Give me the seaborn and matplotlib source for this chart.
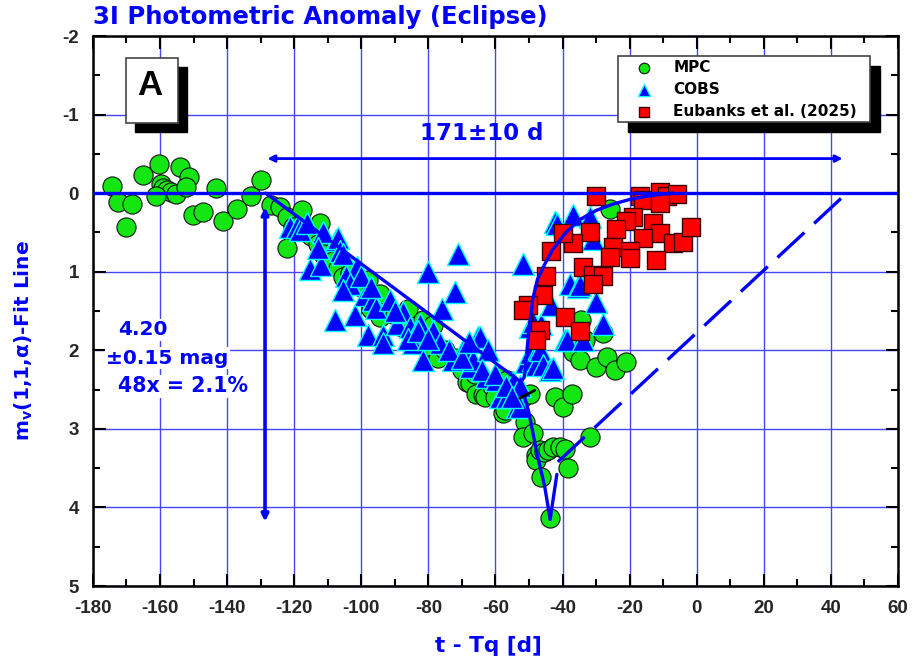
import matplotlib
matplotlib.use("Agg")
import matplotlib.pyplot as plt
import seaborn as sns
import pandas as pd
from matplotlib.patches import Rectangle
from matplotlib.ticker import MultipleLocator
from matplotlib import font_manager

# ---------------- data ----------------
mpc_t = [-174.2, -172.5, -168.4, -170.2, -165.2, -160.4, -154.0, -151.4, -159.6, -159.2,
         -158.0, -156.6, -155.3, -152.3, -161.3, -150.3, -147.3, -143.2, -141.2, -137.2,
         -133.0, -130.0, -126.8, -124.3, -122.3, -120.4, -117.8, -122.3, -115.0, -113.0,
         -112.4, -111.5, -110.0, -108.5, -107.0, -105.5, -103.4, -100.0, -98.0, -97.0,
         -94.5, -94.5, -90.0, -88.0, -86.0, -84.0, -81.6, -80.0, -78.6, -77.2,
         -75.0, -72.0, -70.0, -68.6, -67.7, -66.0, -65.7, -63.8, -63.2, -61.0,
         -60.0, -58.7, -57.8, -57.2, -56.7, -55.0, -51.9, -51.3, -49.8, -51.9,
         -48.9, -47.8, -47.8, -46.8, -46.3, -45.5, -44.4, -43.8, -42.9, -40.8,
         -39.3, -38.4, -42.3, -39.9, -37.3, -31.9, -34.4, -33.4, -37.0, -34.9,
         -29.9, -26.9, -24.4, -21.0, -28.0, -25.9]
mpc_m = [-0.09, 0.11, 0.14, 0.43, -0.23, -0.37, -0.33, -0.21, -0.12, -0.06,
         -0.04, -0.02, 0.01, -0.08, 0.04, 0.28, 0.24, -0.06, 0.36, 0.20,
         0.04, -0.17, 0.15, 0.17, 0.30, 0.43, 0.22, 0.70, 0.55, 0.65,
         0.38, 0.77, 0.90, 0.86, 0.95, 1.07, 1.02, 1.20, 1.10, 1.47,
         1.28, 1.57, 1.55, 1.70, 1.47, 1.80, 1.62, 1.95, 1.68, 2.10,
         2.00, 2.10, 2.25, 2.40, 2.42, 2.30, 2.55, 2.57, 2.59, 2.45,
         2.60, 2.34, 2.80, 2.76, 2.38, 2.55, 2.59, 2.91, 2.55, 3.10,
         3.05, 3.33, 3.40, 3.27, 3.61, 3.30, 3.27, 4.13, 3.23, 3.23,
         3.25, 3.50, 2.59, 2.72, 2.55, 3.10, 1.62, 1.87, 2.02, 2.12,
         2.21, 2.08, 2.25, 2.15, 1.78, 0.20]

cobs_t = [-121.3, -119.3, -118.3, -116.3, -111.5, -107.4, -107.0, -106.4, -105.5, -115.3,
          -111.9, -101.4, -104.6, -103.4, -105.5, -107.9, -101.9, -99.0, -96.6, -95.5,
          -91.5, -98.0, -93.6, -93.6, -89.5, -87.6, -85.5, -84.6, -82.6, -81.6,
          -80.2, -78.6, -76.6, -76.0, -72.7, -72.1, -71.2, -69.7, -67.7, -66.8,
          -65.2, -64.7, -62.7, -62.3, -59.7, -58.7, -56.7, -54.8, -53.7, -52.8,
          -52.8, -51.9, -50.8, -49.8, -49.8, -48.9, -48.9, -47.8, -46.8, -46.3,
          -45.9, -43.8, -43.3, -42.9, -42.3, -41.8, -39.3, -38.8, -37.9, -37.0,
          -35.5, -34.9, -34.0, -31.9, -31.0, -29.9, -28.0,
          -113.0, -100.0, -97.0, -90.0, -86.0, -83.0, -80.0, -74.0, -70.0, -68.0,
          -64.0, -60.0, -57.0, -55.0]
cobs_m = [0.43, 0.43, 0.47, 0.38, 0.49, 0.60, 0.57, 0.73, 0.77, 0.96,
          0.92, 0.94, 1.06, 1.15, 1.23, 1.62, 1.55, 1.30, 1.36, 1.46,
          1.36, 1.81, 1.81, 1.91, 1.66, 1.51, 1.70, 1.91, 1.66, 2.12,
          1.00, 1.76, 1.91, 1.47, 2.12, 1.26, 0.77, 1.99, 2.21, 2.12,
          1.83, 1.83, 2.34, 1.99, 2.38, 2.59, 2.59, 2.40, 2.72, 2.46,
          2.72, 0.90, 2.15, 2.04, 1.70, 1.64, 2.12, 2.19, 2.00, 1.66,
          2.19, 2.25, 1.42, 2.23, 0.37, 0.39, 1.87, 1.87, 1.15, 0.28,
          1.19, 1.17, 1.87, 0.30, 0.58, 1.38, 1.66,
          0.70, 1.05, 1.20, 1.50, 1.85, 1.75, 1.85, 2.00, 2.10, 1.90,
          2.25, 2.30, 2.45, 2.60]

eub_t = [-29.9, -17.0, -16.0, -11.0, -9.0, -6.0, -11.0, -19.0, -21.0, -24.0,
         -13.0, -11.0, -16.0, -7.0, -4.2, -1.8, -31.9, -37.0, -39.9, -43.3,
         -25.0, -25.9, -20.0, -20.0, -12.0, -34.0, -31.0, -28.0, -31.0, -44.8,
         -45.9, -50.4, -51.9, -39.3, -34.9, -46.8, -47.8]
eub_m = [0.03, 0.03, 0.09, -0.02, 0.03, 0.01, 0.13, 0.30, 0.36, 0.45,
         0.38, 0.51, 0.57, 0.64, 0.62, 0.43, 0.49, 0.64, 0.51, 0.73,
         0.68, 0.81, 0.73, 0.83, 0.85, 0.94, 1.04, 1.06, 1.15, 1.06,
         1.30, 1.42, 1.49, 1.57, 1.76, 1.74, 1.87]

# fit lines
fall_t = [-128.5, -52.5, -50.0, -47.7, -45.3, -43.7]
fall_m = [0.0, 2.40, 2.80, 3.30, 3.74, 4.15]
rise_t = [-52.5, -51.5, -51.0, -50.5, -49.8, -48.9, -47.5, -45.5, -43.0, -39.0,
          -35.0, -30.0, -25.0, -20.0, -15.0, -10.0, -7.0]
rise_m = [2.40, 2.35, 2.20, 1.95, 1.65, 1.35, 1.10, 0.92, 0.72, 0.50,
          0.34, 0.22, 0.14, 0.08, 0.04, 0.01, 0.0]
vee_t = [-43.7, -41.7]
vee_m = [4.15, 3.58]
dash_t = [-41.4, 44.7]
dash_m = [3.42, 0.0]
black_t = [-52.8, -48.3]
black_m = [2.61, 2.51]

x_ticks = list(range(-180, 61, 20))
y_ticks = list(range(-2, 6))

BLUE = "#0000ff"
GRID = "#4646ff"

# ---------------- figure ----------------
sns.set_theme(style="white")
plt.rcParams["font.family"] = ["Liberation Sans", "DejaVu Sans"]
plt.rcParams["font.weight"] = "bold"
plt.rcParams["axes.unicode_minus"] = False
plt.rcParams["mathtext.fontset"] = "custom"
plt.rcParams["mathtext.rm"] = "DejaVu Sans:bold"
plt.rcParams["mathtext.it"] = "DejaVu Sans:bold"
plt.rcParams["mathtext.bf"] = "DejaVu Sans:bold"

installed = {f.name for f in font_manager.fontManager.ttflist}
if "Liberation Sans Narrow" in installed:
    TICKFONT, TICKSIZE = "Liberation Sans Narrow", 15.5
else:
    TICKFONT, TICKSIZE = "Liberation Sans", 13.5
WIDE = "DejaVu Sans"

fig = plt.figure(figsize=(9.14, 6.62), dpi=100)
ax = fig.add_axes([0.1017, 0.1148, 0.8808, 0.8308])

ax.set_xlim(-180, 60)
ax.set_ylim(5, -2)
ax.set_xticks(x_ticks)
ax.set_yticks(y_ticks)
ax.xaxis.set_minor_locator(MultipleLocator(10))
ax.yaxis.set_minor_locator(MultipleLocator(0.5))
ax.grid(True, which="major", color=GRID, lw=1.0, zorder=0)
ax.set_axisbelow(True)
for s in ax.spines.values():
    s.set_color("black")
    s.set_linewidth(1.8)
ax.tick_params(which="both", direction="in", top=True, right=True,
               bottom=True, left=True, color="black", width=1.5)
ax.tick_params(which="major", length=9, pad=10)
ax.tick_params(which="minor", length=5)
for lab in ax.get_xticklabels() + ax.get_yticklabels():
    lab.set_fontweight("bold")
    lab.set_fontfamily(TICKFONT)
    lab.set_fontsize(TICKSIZE)

df_mpc = pd.DataFrame({"t": mpc_t, "m": mpc_m})
df_cobs = pd.DataFrame({"t": cobs_t, "m": cobs_m})
df_eub = pd.DataFrame({"t": eub_t, "m": eub_m})

sns.scatterplot(data=df_mpc, x="t", y="m", ax=ax, marker="o", s=190,
                color="#14e614", edgecolor="#101010", linewidth=0.8,
                label="MPC", zorder=3)
sns.scatterplot(data=df_cobs, x="t", y="m", ax=ax, marker="^", s=250,
                color=BLUE, edgecolor="#00ffff", linewidth=1.0,
                label="COBS", zorder=4)
sns.scatterplot(data=df_eub, x="t", y="m", ax=ax, marker="s", s=150,
                color="#ff0000", edgecolor="#3a0000", linewidth=1.0,
                label="Eubanks et al. (2025)", zorder=5)

# zero line and fits
ax.axhline(0, color=BLUE, lw=2.4, zorder=6)
ax.plot(fall_t, fall_m, color=BLUE, lw=2.4, zorder=7)
ax.plot(rise_t, rise_m, color=BLUE, lw=2.4, zorder=7)
ax.plot(vee_t, vee_m, color=BLUE, lw=2.4, zorder=7)
ax.plot(dash_t, dash_m, color=BLUE, lw=2.4, dashes=(11, 4), zorder=7)
ax.plot(black_t, black_m, color="black", lw=2.0, zorder=7)

# arrows
ax.annotate("", xy=(43.5, -0.44), xytext=(-128.0, -0.44),
            arrowprops=dict(arrowstyle="<|-|>", color=BLUE, lw=2.0,
                            mutation_scale=10, shrinkA=0, shrinkB=0), zorder=8)
ax.annotate("", xy=(-128.7, 4.18), xytext=(-128.7, 0.18),
            arrowprops=dict(arrowstyle="<|-|>", color=BLUE, lw=2.6,
                            mutation_scale=10, shrinkA=0, shrinkB=0), zorder=8)

ax.text(-64, -0.76, "171±10 d", color=BLUE, fontsize=16.5, fontweight="bold",
        family=WIDE, ha="center", va="center", zorder=8)
bb = dict(facecolor="white", edgecolor="none", pad=1.0)
ax.text(-172.6, 1.74, "4.20", color=BLUE, fontsize=14.5, fontweight="bold",
        family=WIDE, ha="left", va="center", bbox=bb, zorder=8)
ax.text(-176.0, 2.10, "±0.15 mag", color=BLUE, fontsize=14.5, fontweight="bold",
        family=WIDE, ha="left", va="center", bbox=bb, zorder=8)
ax.text(-172.6, 2.46, "48x = 2.1%", color=BLUE, fontsize=14.8, fontweight="bold",
        family=WIDE, ha="left", va="center", bbox=bb, zorder=8)

# "A" panel box with shadow
ax.add_patch(Rectangle((0.041 + 0.0112, 0.8427 - 0.0164), 0.0646, 0.1173,
                       transform=ax.transAxes, facecolor="black", edgecolor="black",
                       zorder=9, clip_on=False))
ax.add_patch(Rectangle((0.041, 0.8427), 0.0646, 0.1173, transform=ax.transAxes,
                       facecolor="white", edgecolor="#444444", lw=1.2, zorder=9.5,
                       clip_on=False))
ax.text(0.0705, 0.91, "A", transform=ax.transAxes, fontsize=25, fontweight="bold",
        family="Liberation Sans", color="black", ha="center", va="center", zorder=10)

# legend box with shadow
ax.add_patch(Rectangle((0.652 + 0.0124, 0.8436 - 0.018), 0.313, 0.12,
                       transform=ax.transAxes, facecolor="black", edgecolor="black",
                       zorder=9, clip_on=False))
ax.add_patch(Rectangle((0.652, 0.8436), 0.313, 0.12, transform=ax.transAxes,
                       facecolor="white", edgecolor="#444444", lw=1.2, zorder=9.5,
                       clip_on=False))
leg = ax.legend(loc="upper left", bbox_to_anchor=(0.662, 0.962), frameon=False,
                markerscale=0.55, prop={"family": WIDE, "weight": "bold", "size": 11},
                handletextpad=0.9, labelspacing=0.45, borderaxespad=0,
                borderpad=0.2)
for t in leg.get_texts():
    t.set_color("black")
leg.set_zorder(11)

ax.set_xlabel("t - Tq [d]", color=BLUE, fontsize=15.5, fontweight="bold",
              family=WIDE)
ax.xaxis.set_label_coords(0.491, -0.09)
ax.set_ylabel("m$_{v}$(1,1,α)-Fit Line", color=BLUE, fontsize=14.5,
              fontweight="bold", family=WIDE)
ax.yaxis.set_label_coords(-0.072, 0.447)
ax.set_title("3I Photometric Anomaly (Eclipse)", color=BLUE, fontsize=17.5,
             fontweight="bold", family=WIDE, loc="left", pad=9)

fig.savefig("out.png", dpi=100)
